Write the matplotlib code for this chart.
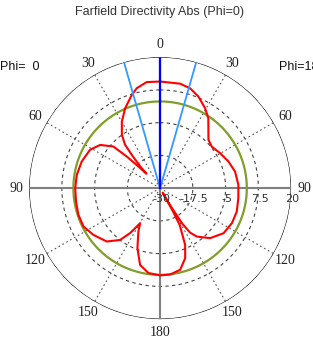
import numpy as np
import matplotlib
matplotlib.use("Agg")
import matplotlib.pyplot as plt

# Farfield directivity pattern (dB)
# right half of the plot (Phi=180 cut), theta in degrees from the top
theta_phi180 = [0, 10.8, 16.7, 22.7, 29.4, 34.6, 38.8, 45, 51.2, 59.7,
                68.7, 77.5, 87.6, 97.3, 107, 116, 125.4, 135, 142.8, 146,
                148, 149.5, 150.3, 151, 152, 156.2, 160.3, 166.2, 173.4, 180]
db_phi180 = [10.7, 10.6, 9.8, 7.9, 5.0, 2.4, -0.6, -3.9, -4.7, -3.5,
             -2.0, -0.7, -0.1, 0.1, 0.6, 0.5, -0.3, -3.0, -6.8, -9.5,
             -14.0, -22.0, -28.0, -20.0, -14.0, -6.3, -1.6, 2.1, 3.2, 3.3]

# left half of the plot (Phi=0 cut)
theta_phi0 = [0, 7.2, 13.1, 16.9, 23.6, 29.9, 35.7, 38.9, 40.4, 42.5,
              43.5, 45, 46.5, 48.3, 54.2, 61.3, 71.2, 80.9, 90, 99.1,
              108.1, 116.6, 125, 135, 142.3, 146.3, 150.3, 153.4, 159.3, 165.4,
              172.2, 180]
db_phi0 = [10.7, 10.8, 9.2, 7.2, 3.3, -0.7, -5.0, -8.7, -13.3, -19.0,
           -22.4, -18.5, -12.5, -6.1, -1.8, 0.5, 1.6, 2.2, 2.4, 2.5,
           2.8, 2.7, 1.1, -1.2, -5.0, -9.4, -14.6, -11.5, -5.5, 0.3,
           2.7, 3.3]

# reference level (green circle), main lobe and 3 dB angular width
ref_level = 3.1
main_lobe = 0
half_width = 16

r_min, r_max = -30, 20
ring_values = [-17.5, -5, 7.5]
ring_labels = ["-30", "-17.5", "-5", "7.5", "20"]
ring_label_pos = [-30, -17.5, -5, 7.5, 20]
angle_ticks = [0, 30, 60, 90, 120, 150, 180, 210, 240, 270, 300, 330]
angle_labels = ["0", "30", "60", "90", "120", "150", "180",
                "150", "120", "90", "60", "30"]

fig = plt.figure(figsize=(3.13, 3.55), dpi=100)
ax = fig.add_axes([0.093, 0.101, 0.837, 0.738], projection="polar")
ax.set_theta_zero_location("N")
ax.set_theta_direction(-1)
ax.set_ylim(r_min, r_max)
ax.grid(False)
ax.set_xticks([])
ax.set_yticks([])
ax.spines["polar"].set_visible(False)

full = np.linspace(0, 2 * np.pi, 361)

# dashed rings
for rv in ring_values:
    ax.plot(full, np.full_like(full, rv), color="#444444", lw=0.8,
            ls=(0, (3, 3)), zorder=1)
# outer circle
ax.plot(full, np.full_like(full, r_max), color="black", lw=0.8, zorder=2)

# dotted spokes
for a in angle_ticks:
    if a % 90 == 0:
        continue
    ax.plot([np.deg2rad(a)] * 2, [r_min, r_max], color="#555555", lw=0.8,
            ls=(0, (1.5, 2.5)), zorder=1)
# solid axis lines
for a in [0, 90, 180, 270]:
    ax.plot([np.deg2rad(a)] * 2, [r_min, r_max], color="#808080", lw=1.5,
            zorder=2)

# reference circle
ax.plot(full, np.full_like(full, ref_level), color="#7f9f2a", lw=1.6, zorder=3)

# pattern: right half then left half mirrored
th = list(theta_phi180) + [360 - t for t in reversed(theta_phi0)]
db = list(db_phi180) + list(reversed(db_phi0))
ax.plot(np.deg2rad(th), db, color="red", lw=1.5, zorder=4)

# main lobe direction and beam width
for a in [main_lobe - half_width, main_lobe + half_width]:
    ax.plot([np.deg2rad(a)] * 2, [r_min, r_max], color="#3399ff", lw=1.3,
            zorder=5)
ax.plot([np.deg2rad(main_lobe)] * 2, [r_min, r_max], color="#0000ff", lw=1.6,
        zorder=6)

# angle labels
for a, lab in zip(angle_ticks, angle_labels):
    ax.text(np.deg2rad(a), 25, lab, ha="center", va="center",
            family="Liberation Serif", fontsize=10, color="#222222",
            clip_on=False)

# radial labels below the horizontal axis
for rv, lab in zip(ring_label_pos, ring_labels):
    ax.annotate(lab, xy=(np.deg2rad(90), rv), xytext=(1, -4),
                textcoords="offset points", ha="center", va="top",
                family="DejaVu Sans", fontsize=8, color="#333333",
                annotation_clip=False, zorder=7)

fig.text(0.511, 0.965, "Farfield Directivity Abs (Phi=0)", ha="center",
         va="center", family="Liberation Sans", fontsize=9, color="#333333")
fig.text(0.0, 0.81, "Phi=  0", ha="left", va="center",
         family="Liberation Sans", fontsize=9, color="#111111")
fig.text(0.892, 0.81, "Phi=180", ha="left", va="center",
         family="Liberation Sans", fontsize=9, color="#111111")

fig.savefig("out.png", dpi=100)
